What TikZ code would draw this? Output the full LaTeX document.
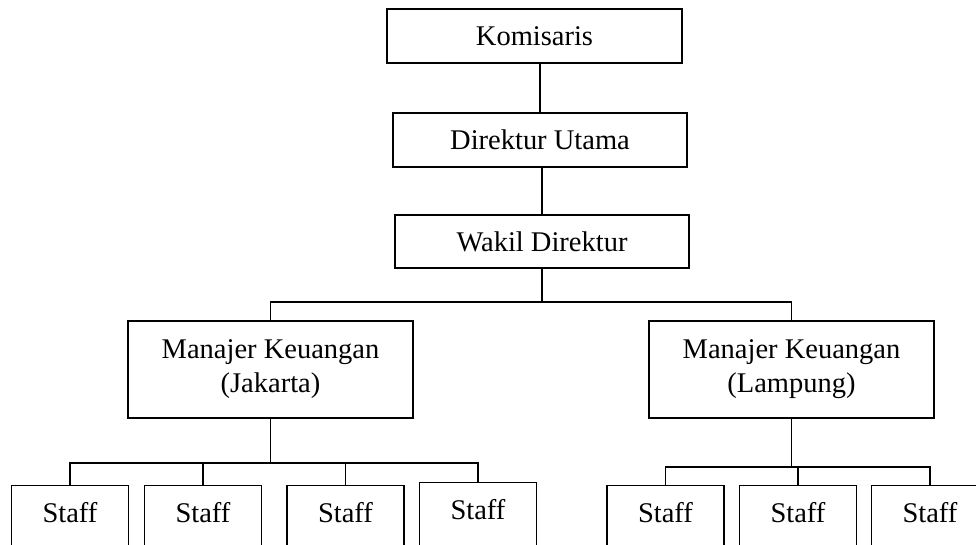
\documentclass[tikz,border=0pt]{standalone}
\usepackage{fontspec}
\setmainfont{Liberation Serif}
\usetikzlibrary{positioning}

\begin{document}
\begin{tikzpicture}[x=0.5bp,y=-0.5bp,line width=0.65pt,
  every node/.style={font=\fontsize{14.3}{17}\selectfont},
  jabatan/.style={draw,rectangle,align=center,inner sep=0pt},
  manajer/.style={jabatan,minimum width=142.5bp,minimum height=48.5bp},
  staffbox/.style={draw,rectangle,anchor=north,inner sep=0pt,minimum width=58.5bp,
    text height=18.5bp,text depth=30bp}]
\useasboundingbox (0,0) rectangle (976,545);
\clip (0,0) rectangle (976,545);
  % pimpinan
  \node[jabatan,minimum width=147.5bp,minimum height=27bp] (kom) at (534.5,36) {Komisaris};
  \node[jabatan,minimum width=147bp,minimum height=27bp] (dir) at (540,140) {Direktur Utama};
  \node[jabatan,minimum width=147bp,minimum height=26.5bp] (wakil) at (542,241.5) {Wakil Direktur};
  % manajer
  \node[manajer] (mj) at (270.5,369.5) {Manajer Keuangan\\(Jakarta)};
  \node[manajer] (ml) at (791.5,369.5) {Manajer Keuangan\\(Lampung)};
  % staff
  \node[staffbox] (sj1) at (70,485)  {Staff};
  \node[staffbox] (sj2) at (203,485) {Staff};
  \node[staffbox] (sj3) at (345.5,485) {Staff};
  \node[staffbox] (sj4) at (478,482) {Staff};
  \node[staffbox] (sl1) at (665.5,485) {Staff};
  \node[staffbox] (sl2) at (798,485) {Staff};
  \node[staffbox] (sl3) at (930,485) {Staff};
  % garis
  \coordinate (busW) at (0,302);
  \coordinate (busJ) at (0,463);
  \coordinate (busL) at (0,467);
  \draw (kom.south -| dir.north) -- (dir.north);
  \draw (wakil.north) -- (wakil.north |- dir.south);
  \draw (wakil.south) -- (wakil.south |- busW);
  \draw (wakil.south |- busW) -| (mj.north);
  \draw (wakil.south |- busW) -| (ml.north);
  \draw (mj.south) -- (mj.south |- busJ);
  \foreach \s in {sj1,sj2,sj3,sj4}
    \draw (mj.south |- busJ) -| (\s.north);
  \draw (ml.south) -- (ml.south |- busL);
  \foreach \s in {sl1,sl2,sl3}
    \draw (ml.south |- busL) -| (\s.north);
\end{tikzpicture}
\end{document}
